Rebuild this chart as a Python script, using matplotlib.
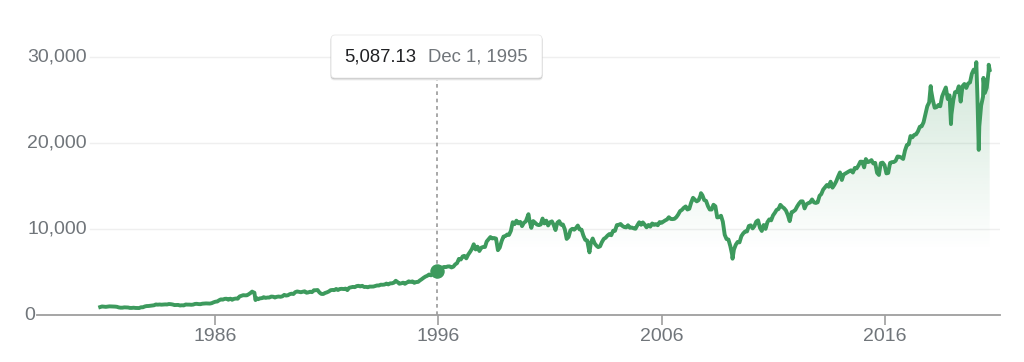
import pandas as pd
import matplotlib
matplotlib.use("Agg")
import matplotlib.pyplot as plt
import matplotlib.dates as mdates
import matplotlib.transforms as mtransforms
from matplotlib.patches import FancyBboxPatch, Polygon
import numpy as np

plt.rcParams['font.family'] = ['Liberation Sans', 'DejaVu Sans']

# Dow Jones, value on the first day of each month (Nov 1980 -> Sep 2020)
first_month = "1980-11-01"
dow_1980s = [925, 993,
             964, 947, 974, 1004, 998, 992, 977, 953, 882, 850, 853, 889,
             875, 871, 824, 823, 848, 820, 812, 809, 901, 896, 992, 1039,
             1047, 1076, 1113, 1130, 1226, 1200, 1222, 1199, 1216, 1233, 1225, 1276,
             1259, 1221, 1155, 1165, 1171, 1105, 1132, 1115, 1224, 1207, 1207, 1189,
             1212, 1287, 1300, 1267, 1259, 1315, 1336, 1348, 1334, 1329, 1375, 1472,
             1547, 1571, 1709, 1819, 1784, 1877, 1893, 1775, 1898, 1768, 1878, 1914,
             1896, 2158, 2224, 2305, 2286, 2292, 2419, 2572, 2663, 2596, 1994, 1834,
             1939, 1958, 2072, 1989, 2032, 2031, 2142, 2129, 2032, 2113, 2149, 2115,
             2169, 2342, 2259, 2293, 2419, 2481, 2440, 2661, 2737, 2693, 2645, 2706]
dow_1990s = [2753, 2591, 2627, 2707, 2657, 2877, 2881, 2905, 2614, 2453, 2442, 2560,
             2634, 2736, 2882, 2914, 2888, 3028, 2907, 3025, 3044, 3017, 3069, 2895,
             3169, 3224, 3268, 3236, 3359, 3397, 3319, 3394, 3257, 3272, 3226, 3305,
             3301, 3310, 3370, 3436, 3428, 3527, 3516, 3540, 3651, 3555, 3681, 3684,
             3754, 3978, 3832, 3636, 3682, 3758, 3625, 3765, 3913, 3843, 3908, 3739,
             3834, 3844, 4011, 4158, 4321, 4465, 4556, 4709, 4611, 4789, 4756, 5087.13,
             5117, 5395, 5486, 5588, 5569, 5643, 5655, 5529, 5616, 5882, 6029, 6522,
             6448, 6813, 6878, 6584, 7009, 7331, 7673, 8223, 7622, 7945, 7442, 7823,
             7908, 7907, 8546, 8800, 9063, 8900, 8952, 8883, 7539, 7843, 8592, 9117,
             9181, 9359, 9307, 9786, 10789, 10560, 10971, 10655, 10829, 10337, 10730, 10878]
dow_2000s = [11497, 10941, 10128, 10922, 10734, 10522, 10448, 10522, 11215, 10651, 10971, 10415,
             10787, 10887, 10495, 9879, 10735, 10912, 10502, 10523, 9950, 8848, 9075, 9852,
             10021, 9920, 10106, 10404, 9946, 9925, 9243, 8737, 8664, 7592, 8397, 8896,
             8342, 8054, 7891, 7992, 8480, 8850, 8985, 9234, 9416, 9275, 9801, 9782,
             10454, 10488, 10584, 10358, 10226, 10188, 10435, 10140, 10174, 10080, 10027, 10428,
             10783, 10490, 10766, 10504, 10193, 10467, 10275, 10641, 10482, 10569, 10440, 10806,
             10718, 10865, 10993, 11109, 11367, 11168, 11150, 11186, 11381, 11679, 12081, 12222,
             12463, 12622, 12269, 12354, 13063, 13628, 13409, 13212, 13358, 13896, 13930, 13372,
             13265, 12650, 12266, 12263, 12820, 12638, 11350, 11378, 11544, 10851, 9325, 8829,
             8776, 8001, 7063, 7609, 8168, 8500, 8447, 9172, 9496, 9712, 9713, 10345]
dow_2010s = [10428, 10067, 10325, 10857, 11009, 10137, 9774, 10466, 10015, 10788, 11118, 11006,
             11578, 11892, 12226, 12320, 12811, 12570, 12414, 12143, 11614, 10913, 11955, 12046,
             12218, 12633, 12952, 13212, 13214, 12393, 12880, 13009, 13091, 13437, 13096, 13026,
             13104, 13861, 14054, 14579, 14840, 15116, 14910, 15500, 14810, 15130, 15546, 16086,
             16577, 15699, 16322, 16458, 16581, 16717, 16827, 16563, 17098, 17043, 17391, 17828,
             17823, 17165, 18133, 17776, 17841, 18011, 17620, 17690, 16528, 16285, 17664, 17720,
             17425, 16466, 16517, 17685, 17774, 17787, 17930, 18432, 18401, 18308, 18142, 19124,
             19763, 19864, 20812, 20663, 20941, 21009, 21350, 21891, 21948, 22405, 23377, 24272,
             24719, 26149, 25029, 24103, 24163, 24416, 24271, 25415, 25965, 26458, 25116, 25538,
             23327, 24999, 25916, 25929, 26593, 24815, 26600, 26864, 26403, 26917, 27046, 28051]
dow_2020 = [28538, 28256, 25409, 21917, 24346, 25383, 25813, 26428, 28430]

# extra points for peaks / troughs between month starts
extreme_dates = ["1987-08-25", "1987-10-19", "2000-01-14", "2002-10-09", "2007-10-09",
                 "2009-03-09", "2018-01-26", "2018-12-24", "2020-02-12", "2020-03-23",
                 "2020-06-08", "2020-09-02", "2020-09-18"]
extreme_values = [2722, 1738, 11723, 7286, 14165, 6547, 26617, 22200, 29400, 19200,
                  27572, 29100, 28500]

hover_date = "1995-12-01"
hover_label = "Dec 1, 1995"
y_ticks = [0, 10000, 20000, 30000]
x_ticks = [1986, 1996, 2006, 2016]

monthly = dow_1980s + dow_1990s + dow_2000s + dow_2010s + dow_2020
s = pd.Series(monthly, index=pd.date_range(first_month, periods=len(monthly), freq="MS"))
s = pd.concat([s, pd.Series(extreme_values, index=pd.to_datetime(extreme_dates))]).sort_index()

green = "#3d9a5d"
grey_txt = "#70757a"
axis_col = "#9e9e9e"

W, H = 1024, 362
fig = plt.figure(figsize=(W / 100, H / 100), dpi=100)
ax = fig.add_axes([37 / W, 1 - 315 / H, 963 / W, 275 / H])

ax.set_xlim(pd.Timestamp("1978-01-01"), pd.Timestamp("2021-03-06"))
ax.set_ylim(0, 31977)

xnum = mdates.date2num(s.index.to_pydatetime())
yv = s.values.astype(float)

# gradient fill under the line
grad = np.linspace(0, 1, 256)
alpha = np.clip((grad * 31977 - 7500) / (30000 - 7500), 0, 1) * 0.24
rgba = np.zeros((256, 1, 4))
rgba[..., 0], rgba[..., 1], rgba[..., 2] = 0x3d / 255, 0x9a / 255, 0x5d / 255
rgba[:, 0, 3] = alpha
im = ax.imshow(rgba, extent=[xnum[0], xnum[-1], 0, 31977], origin="lower",
               aspect="auto", zorder=1, interpolation="bilinear")
verts = np.vstack([np.column_stack([xnum, yv]), [[xnum[-1], 0], [xnum[0], 0]]])
clip = Polygon(verts, closed=True, transform=ax.transData, facecolor="none", edgecolor="none")
ax.add_patch(clip)
im.set_clip_path(clip)

# grid lines
for v in y_ticks[1:]:
    ax.axhline(v, xmin=53 / 963, xmax=1, color="#efefef", lw=1, zorder=0)

ax.plot(s.index, yv, color=green, lw=2.8, zorder=3, solid_joinstyle="round")

# hover marker and dashed guide
hd = pd.Timestamp(hover_date)
hv = s[hd]
if isinstance(hv, pd.Series):
    hv = hv.iloc[0]
ax.plot([hd, hd], [0, 27300], color="#9a9a9a", lw=1.2, ls=(0, (2.2, 2.2)), zorder=2)
ax.plot([hd], [hv], "o", color=green, ms=9.4, zorder=4)

# axes styling
for sp in ["top", "right", "left"]:
    ax.spines[sp].set_visible(False)
ax.spines["bottom"].set_color(axis_col)
ax.spines["bottom"].set_linewidth(1.3)
ax.set_yticks([])
ax.set_xticks([pd.Timestamp(f"{y}-01-01") for y in x_ticks])
ax.set_xticklabels([str(y) for y in x_ticks])
ax.tick_params(axis="x", direction="out", length=7.2, width=1.2, color=axis_col,
               labelcolor=grey_txt, labelsize=14, pad=2)
ax.patch.set_alpha(0)

ytrans = mtransforms.blended_transform_factory(ax.transAxes, ax.transData)
for v in y_ticks:
    xpos = 50 / 963 if v else -2 / 963
    ax.text(xpos, v, f"{v:,}", transform=ytrans, ha="right", va="center",
            fontsize=14, color=grey_txt)

# tooltip
cx = ax.transData.transform((mdates.date2num(hd), hv))[0]
bw, bh = 211, 43
bx0 = cx - bw / 2
by0 = H - 78
for off, a in [(2.5, 0.06), (1.5, 0.10), (0.8, 0.12)]:
    sh = FancyBboxPatch((bx0 - off * 0.3, by0 - off), bw + off * 0.6, bh + off * 0.3,
                        boxstyle="round,pad=0,rounding_size=4", transform=None,
                        facecolor="black", edgecolor="none", alpha=a, zorder=5)
    fig.patches.append(sh)
box = FancyBboxPatch((bx0, by0), bw, bh, boxstyle="round,pad=0,rounding_size=4",
                     transform=None, facecolor="white", edgecolor="#e8e8e8", lw=0.6, zorder=6)
fig.patches.append(box)
fig.text((bx0 + 13) / W, 1 - 57 / H, f"{hv:,.2f}", ha="left", va="center",
         fontsize=13.3, color="#202124", zorder=7)
fig.text((bx0 + 97) / W, 1 - 57 / H, hover_label, ha="left", va="center",
         fontsize=13.3, color=grey_txt, zorder=7)

fig.savefig("out.png", dpi=100)
